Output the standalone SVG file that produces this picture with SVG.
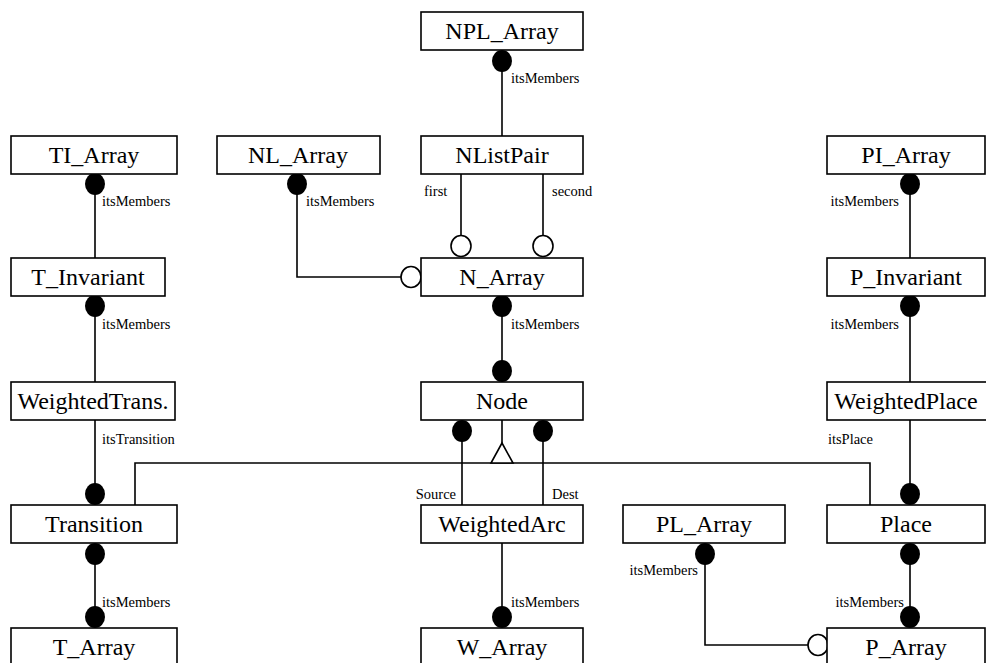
<svg xmlns="http://www.w3.org/2000/svg" width="986" height="663" viewBox="0 0 986 663">
<style>
.box{fill:#fff;stroke:#000;stroke-width:1.6}
.lbl{font-family:"Liberation Serif",serif;font-size:24px;text-anchor:middle;fill:#000}
.sm{font-family:"Liberation Serif",serif;font-size:14.5px;fill:#000}
.ln{fill:none;stroke:#000;stroke-width:1.6}
.dot{fill:#000}
.hol{fill:#fff;stroke:#000;stroke-width:1.6}
</style>
<rect width="986" height="663" fill="#fff"/>
<g id="connectors">
<path class="ln" d="M502 60V136"/>
<path class="ln" d="M461 174V236 M543 174V236"/>
<path class="ln" d="M502 306V372"/>
<path class="ln" d="M297 184V277H402"/>
<path class="ln" d="M95 184V258 M95 306V382 M95 420V495 M95 553V618"/>
<path class="ln" d="M910 184V258 M910 306V382 M910 420V495 M910 553V618"/>
<path class="ln" d="M462 432V505 M543 432V505"/>
<path class="ln" d="M502 420V443 M135 505V463H870V505"/>
<polygon class="hol" points="502,443 491,463 513,463"/>
<path class="ln" d="M502 543V618"/>
<path class="ln" d="M705 553V645H809"/>
<ellipse class="dot" cx="502" cy="61" rx="10" ry="11"/>
<ellipse class="dot" cx="95" cy="184" rx="10" ry="11"/>
<ellipse class="dot" cx="297" cy="184" rx="10" ry="11"/>
<ellipse class="dot" cx="910" cy="184" rx="10" ry="11"/>
<ellipse class="dot" cx="95" cy="306" rx="10" ry="11"/>
<ellipse class="dot" cx="502" cy="306" rx="10" ry="11"/>
<ellipse class="dot" cx="910" cy="306" rx="10" ry="11"/>
<ellipse class="dot" cx="502" cy="371" rx="10" ry="11"/>
<ellipse class="dot" cx="462" cy="431" rx="10" ry="11"/>
<ellipse class="dot" cx="543" cy="431" rx="10" ry="11"/>
<ellipse class="dot" cx="95" cy="494" rx="10" ry="11"/>
<ellipse class="dot" cx="910" cy="494" rx="10" ry="11"/>
<ellipse class="dot" cx="95" cy="554" rx="10" ry="11"/>
<ellipse class="dot" cx="705" cy="554" rx="10" ry="11"/>
<ellipse class="dot" cx="910" cy="554" rx="10" ry="11"/>
<ellipse class="dot" cx="95" cy="617" rx="10" ry="11"/>
<ellipse class="dot" cx="502" cy="617" rx="10" ry="11"/>
<ellipse class="dot" cx="910" cy="617" rx="10" ry="11"/>
<ellipse class="hol" cx="461" cy="246" rx="10" ry="10.5"/>
<ellipse class="hol" cx="543" cy="246" rx="10" ry="10.5"/>
<ellipse class="hol" cx="411" cy="277" rx="10" ry="10.5"/>
<ellipse class="hol" cx="818" cy="645" rx="10" ry="10.5"/>
<text class="sm" x="511" y="83">itsMembers</text>
<text class="sm" x="102" y="206">itsMembers</text>
<text class="sm" x="306" y="206">itsMembers</text>
<text class="sm" x="899" y="206" text-anchor="end">itsMembers</text>
<text class="sm" x="424" y="196">first</text>
<text class="sm" x="552" y="196">second</text>
<text class="sm" x="102" y="329">itsMembers</text>
<text class="sm" x="511" y="329">itsMembers</text>
<text class="sm" x="899" y="329" text-anchor="end">itsMembers</text>
<text class="sm" x="102" y="444">itsTransition</text>
<text class="sm" x="873" y="444" text-anchor="end">itsPlace</text>
<text class="sm" x="456" y="499" text-anchor="end">Source</text>
<text class="sm" x="552" y="499">Dest</text>
<text class="sm" x="698" y="575" text-anchor="end">itsMembers</text>
<text class="sm" x="102" y="607">itsMembers</text>
<text class="sm" x="511" y="607">itsMembers</text>
<text class="sm" x="904" y="607" text-anchor="end">itsMembers</text>
</g>
<g id="NPL_Array"><rect class="box" x="421" y="12" width="162" height="38"/><text class="lbl" x="502" y="39">NPL_Array</text></g>
<g id="TI_Array"><rect class="box" x="11" y="136" width="166" height="38"/><text class="lbl" x="94" y="163">TI_Array</text></g>
<g id="NL_Array"><rect class="box" x="217" y="136" width="163" height="38"/><text class="lbl" x="298" y="163">NL_Array</text></g>
<g id="NListPair"><rect class="box" x="421" y="136" width="162" height="38"/><text class="lbl" x="502" y="163">NListPair</text></g>
<g id="PI_Array"><rect class="box" x="827" y="136" width="158" height="38"/><text class="lbl" x="906" y="163">PI_Array</text></g>
<g id="T_Invariant"><rect class="box" x="11" y="258" width="154" height="38"/><text class="lbl" x="88" y="285">T_Invariant</text></g>
<g id="N_Array"><rect class="box" x="421" y="258" width="162" height="38"/><text class="lbl" x="502" y="285">N_Array</text></g>
<g id="P_Invariant"><rect class="box" x="827" y="258" width="158" height="38"/><text class="lbl" x="906" y="285">P_Invariant</text></g>
<g id="WeightedTrans"><rect class="box" x="11" y="382" width="164" height="38"/><text class="lbl" x="93" y="409">WeightedTrans.</text></g>
<g id="Node"><rect class="box" x="421" y="382" width="162" height="38"/><text class="lbl" x="502" y="409">Node</text></g>
<g id="WeightedPlace"><rect class="box" x="827" y="382" width="160" height="38"/><text class="lbl" x="906" y="409">WeightedPlace</text></g>
<g id="Transition"><rect class="box" x="11" y="505" width="166" height="38"/><text class="lbl" x="94" y="532">Transition</text></g>
<g id="WeightedArc"><rect class="box" x="421" y="505" width="162" height="38"/><text class="lbl" x="502" y="532">WeightedArc</text></g>
<g id="PL_Array"><rect class="box" x="623" y="505" width="162" height="38"/><text class="lbl" x="704" y="532">PL_Array</text></g>
<g id="Place"><rect class="box" x="827" y="505" width="158" height="38"/><text class="lbl" x="906" y="532">Place</text></g>
<g id="T_Array"><rect class="box" x="11" y="628" width="166" height="40"/><text class="lbl" x="94" y="655">T_Array</text></g>
<g id="W_Array"><rect class="box" x="421" y="628" width="162" height="40"/><text class="lbl" x="502" y="655">W_Array</text></g>
<g id="P_Array"><rect class="box" x="827" y="628" width="158" height="40"/><text class="lbl" x="906" y="655">P_Array</text></g>
</svg>
